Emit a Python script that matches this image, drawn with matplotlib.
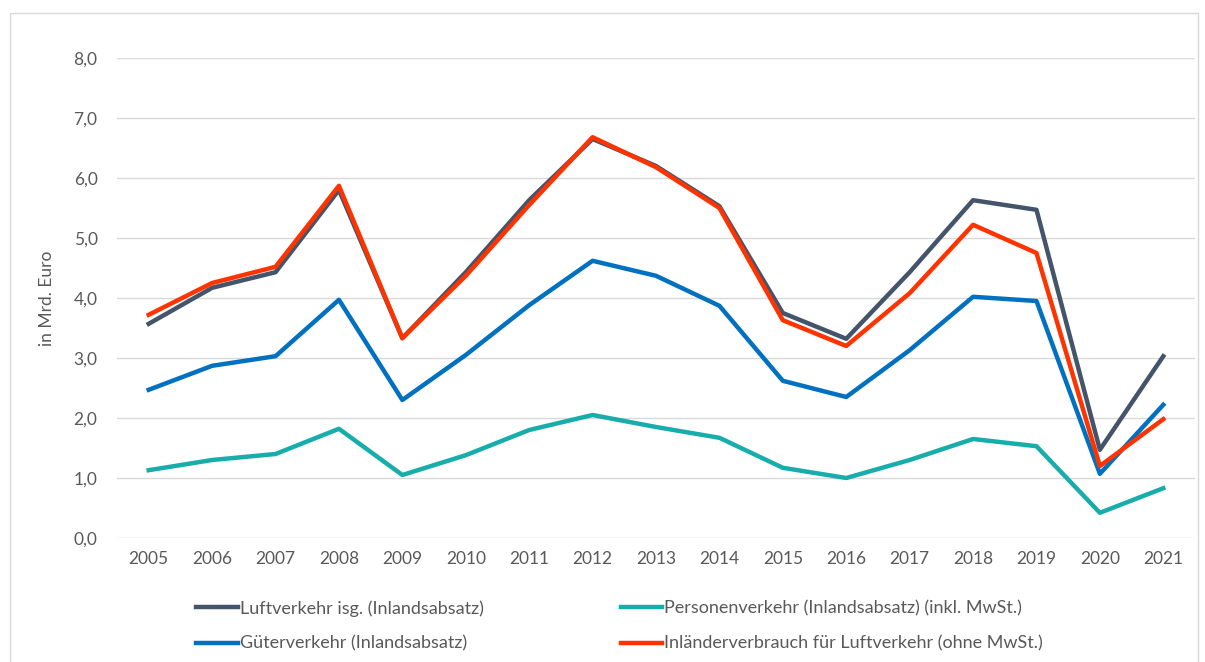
import numpy as np
import matplotlib.pyplot as plt
from matplotlib.patches import Rectangle

# Daten (in Mrd. Euro)
jahre = [str(j) for j in range(2005, 2022)]
luftverkehr = [3.57, 4.17, 4.43, 5.80, 3.33, 4.43, 5.63, 6.65, 6.20, 5.53,
               3.75, 3.32, 4.43, 5.63, 5.47, 1.47, 3.03]
gueterverkehr = [2.47, 2.87, 3.03, 3.97, 2.30, 3.05, 3.88, 4.62, 4.37, 3.87,
                 2.62, 2.35, 3.13, 4.02, 3.95, 1.07, 2.22]
personenverkehr = [1.13, 1.30, 1.40, 1.82, 1.05, 1.38, 1.80, 2.05, 1.85, 1.67,
                   1.17, 1.00, 1.30, 1.65, 1.53, 0.42, 0.83]
inlaenderverbrauch = [3.72, 4.25, 4.52, 5.87, 3.33, 4.37, 5.55, 6.68, 6.18, 5.50,
                      3.63, 3.20, 4.08, 5.22, 4.75, 1.20, 1.98]

# Farben
c_luft = '#44546A'
c_gueter = '#0070C0'
c_personen = '#17ADAA'
c_inland = '#FF3300'
c_text = '#595959'

plt.rcParams['font.family'] = ['Lato', 'DejaVu Sans']

fig = plt.figure(figsize=(12.05, 6.62), dpi=100)
ax = fig.add_axes([117 / 1205, 1 - 538 / 662, (1195 - 117) / 1205, (538 - 58) / 662])

x = np.arange(len(jahre))
lw = 3.2
l1, = ax.plot(x, luftverkehr, color=c_luft, lw=lw, label='Luftverkehr isg. (Inlandsabsatz)')
l3, = ax.plot(x, personenverkehr, color=c_personen, lw=lw, label='Personenverkehr (Inlandsabsatz) (inkl. MwSt.)')
l2, = ax.plot(x, gueterverkehr, color=c_gueter, lw=lw, label='Güterverkehr (Inlandsabsatz)')
l4, = ax.plot(x, inlaenderverbrauch, color=c_inland, lw=lw, label='Inländerverbrauch für Luftverkehr (ohne MwSt.)')

ax.set_xlim(-0.5, len(jahre) - 0.5)
ax.set_ylim(0, 8)
ax.set_yticks(np.arange(0, 9, 1))
ax.set_yticklabels([f'{v:.1f}'.replace('.', ',') for v in range(9)])
ax.set_xticks(x)
ax.set_xticklabels(jahre)
ax.tick_params(length=0, labelsize=12.5, labelcolor=c_text, pad=9)
ax.tick_params(axis='y', pad=14)
ax.grid(axis='y', color='#D9D9D9', lw=1)
ax.set_axisbelow(True)
for s in ax.spines.values():
    s.set_visible(False)
ax.set_ylabel('in Mrd. Euro', fontsize=12.5, color=c_text, labelpad=13)

fig.legend(handles=[l1, l2, l3, l4], ncol=2, loc='upper left',
           bbox_to_anchor=(180 / 1205, 1 - 584 / 662), frameon=False,
           fontsize=13, labelcolor=c_text, handlelength=2.3, handletextpad=0.1,
           columnspacing=7.6, labelspacing=1.05)

# Rahmen
fig.patches.append(Rectangle((10 / 1205, -0.01), 1188 / 1205, 1 - 13 / 662 + 0.01,
                             transform=fig.transFigure, fill=False,
                             edgecolor='#D9D9D9', lw=1))

fig.savefig('out.png', dpi=100)
